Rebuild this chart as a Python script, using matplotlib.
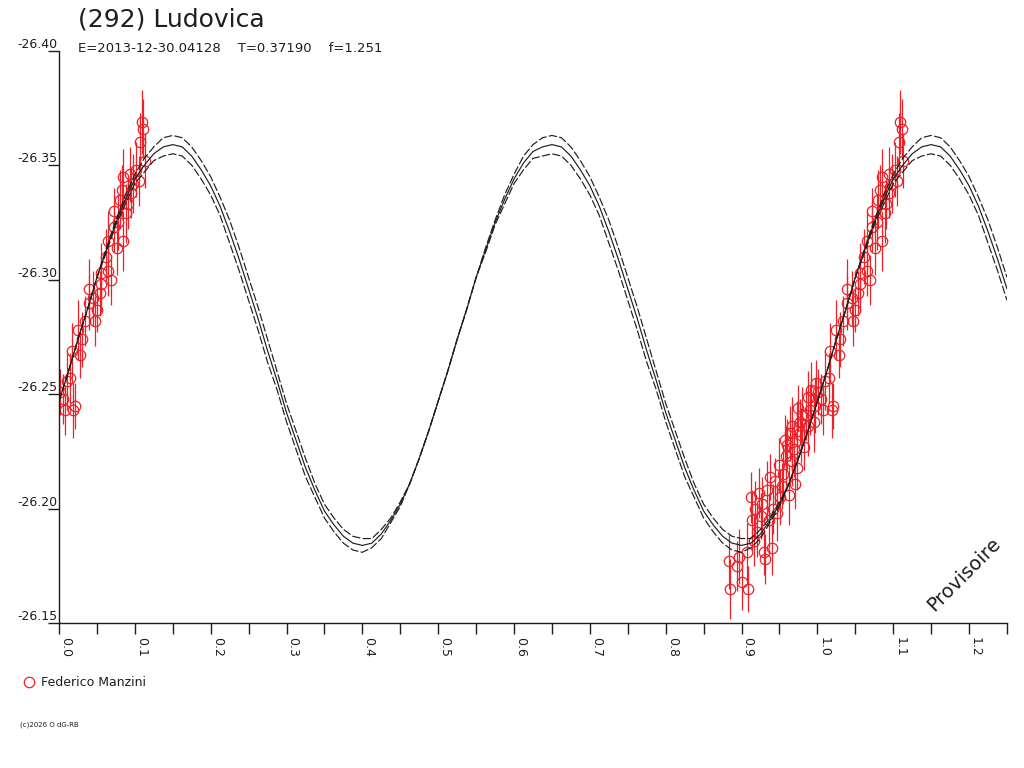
import numpy as np
import matplotlib
matplotlib.use('Agg')
import matplotlib.pyplot as plt
from matplotlib.lines import Line2D
from matplotlib.ticker import MultipleLocator

# fit curve and its error envelope, phase step 0.0125 from 0 to 1.25
fit_phase = [i * 0.0125 for i in range(101)]
fit_mid = [
    -26.247, -26.260, -26.274, -26.287, -26.301, -26.313, -26.325, -26.335, -26.344, -26.350,
    -26.355, -26.358, -26.359, -26.358, -26.354, -26.348, -26.341, -26.332, -26.321, -26.309,
    -26.296, -26.283, -26.269, -26.256, -26.242, -26.230, -26.218, -26.208, -26.199, -26.193,
    -26.188, -26.185, -26.184, -26.185, -26.189, -26.195, -26.202, -26.211, -26.222, -26.234,
    -26.247, -26.260, -26.274, -26.287, -26.301, -26.313, -26.325, -26.335, -26.344, -26.351,
    -26.356, -26.358, -26.359, -26.358, -26.354, -26.348, -26.341, -26.332, -26.321, -26.309,
    -26.296, -26.283, -26.269, -26.256, -26.242, -26.230, -26.218, -26.208, -26.199, -26.193,
    -26.188, -26.185, -26.184, -26.185, -26.189, -26.195, -26.202, -26.211, -26.222, -26.234,
    -26.247, -26.260, -26.274, -26.287, -26.301, -26.313, -26.325, -26.335, -26.344, -26.350,
    -26.355, -26.358, -26.359, -26.358, -26.354, -26.348, -26.341, -26.332, -26.321, -26.309,
    -26.296,
]
fit_upper = [
    -26.247, -26.260, -26.274, -26.287, -26.301, -26.314, -26.326, -26.337, -26.346, -26.353,
    -26.358, -26.362, -26.363, -26.362, -26.358, -26.352, -26.345, -26.336, -26.326, -26.314,
    -26.301, -26.288, -26.274, -26.260, -26.246, -26.234, -26.222, -26.211, -26.202, -26.196,
    -26.191, -26.188, -26.187, -26.187, -26.191, -26.196, -26.203, -26.211, -26.222, -26.234,
    -26.247, -26.260, -26.274, -26.287, -26.301, -26.314, -26.326, -26.337, -26.346, -26.354,
    -26.359, -26.362, -26.363, -26.362, -26.358, -26.352, -26.345, -26.336, -26.326, -26.314,
    -26.301, -26.288, -26.274, -26.260, -26.246, -26.234, -26.222, -26.211, -26.202, -26.196,
    -26.191, -26.188, -26.187, -26.187, -26.191, -26.196, -26.203, -26.211, -26.222, -26.234,
    -26.247, -26.260, -26.274, -26.287, -26.301, -26.314, -26.326, -26.337, -26.346, -26.353,
    -26.358, -26.362, -26.363, -26.362, -26.358, -26.352, -26.345, -26.336, -26.326, -26.314,
    -26.301,
]
fit_lower = [
    -26.247, -26.260, -26.274, -26.287, -26.301, -26.312, -26.324, -26.333, -26.342, -26.347,
    -26.352, -26.354, -26.355, -26.354, -26.350, -26.344, -26.337, -26.328, -26.316, -26.304,
    -26.291, -26.278, -26.264, -26.252, -26.238, -26.226, -26.214, -26.205, -26.196, -26.190,
    -26.185, -26.182, -26.181, -26.183, -26.187, -26.194, -26.201, -26.211, -26.222, -26.234,
    -26.247, -26.260, -26.274, -26.287, -26.301, -26.312, -26.324, -26.333, -26.342, -26.348,
    -26.353, -26.354, -26.355, -26.354, -26.350, -26.344, -26.337, -26.328, -26.316, -26.304,
    -26.291, -26.278, -26.264, -26.252, -26.238, -26.226, -26.214, -26.205, -26.196, -26.190,
    -26.185, -26.182, -26.181, -26.183, -26.187, -26.194, -26.201, -26.211, -26.222, -26.234,
    -26.247, -26.260, -26.274, -26.287, -26.301, -26.312, -26.324, -26.333, -26.342, -26.347,
    -26.352, -26.354, -26.355, -26.354, -26.350, -26.344, -26.337, -26.328, -26.316, -26.304,
    -26.291,
]

# observations (Federico Manzini)
obs_phase = [
    0.912, 0.885, 0.883, 0.909, 0.901, 0.894, 0.896, 0.907, 0.929, 0.931,
    0.940, 0.916, 0.914, 0.925, 0.927, 0.934, 0.942, 0.947, 0.953, 0.962,
    0.971, 0.949, 0.958, 0.973, 0.966, 0.964, 0.973, 0.966, 0.982, 0.980,
    0.988, 0.988, 0.997, 0.921, 0.936, 0.944, 0.955, 0.960, 0.969, 0.977,
    0.985, 0.992, 0.995, 0.918, 0.923, 0.938, 0.951, 0.957, 0.967, 0.975,
    0.979, 0.990, 0.998,
    0.001, 0.008, 0.019, 0.021, 0.010, 0.015, 0.017, 0.028, 0.025, 0.034,
    0.039, 0.039, 0.047, 0.045, 0.054, 0.056, 0.065, 0.056, 0.065, 0.072,
    0.076, 0.085, 0.072, 0.080, 0.083, 0.085, 0.089, 0.091, 0.094, 0.098,
    0.105, 0.107, 0.113, 0.109, 0.111, 0.005, 0.030, 0.050, 0.062, 0.069,
    0.078, 0.095, 0.102,
]
obs_mag = [
    -26.205, -26.165, -26.177, -26.165, -26.168, -26.175, -26.179, -26.181, -26.181, -26.178,
    -26.183, -26.186, -26.195, -26.197, -26.202, -26.208, -26.200, -26.198, -26.210, -26.206,
    -26.211, -26.219, -26.223, -26.218, -26.221, -26.233, -26.234, -26.229, -26.227, -26.241,
    -26.249, -26.236, -26.245, -26.190, -26.195, -26.212, -26.215, -26.228, -26.226, -26.238,
    -26.241, -26.252, -26.238, -26.200, -26.207, -26.214, -26.205, -26.230, -26.236, -26.244,
    -26.232, -26.243, -26.255,
    -26.251, -26.243, -26.243, -26.245, -26.256, -26.257, -26.269, -26.267, -26.278, -26.282,
    -26.290, -26.296, -26.282, -26.292, -26.294, -26.303, -26.304, -26.298, -26.317, -26.323,
    -26.314, -26.317, -26.330, -26.335, -26.339, -26.345, -26.329, -26.333, -26.346, -26.342,
    -26.343, -26.360, -26.352, -26.369, -26.366, -26.248, -26.274, -26.287, -26.310, -26.300,
    -26.325, -26.338, -26.348,
]
obs_err = [
    0.011, 0.013, 0.012, 0.010, 0.012, 0.011, 0.012, 0.013, 0.010, 0.011,
    0.012, 0.011, 0.013, 0.010, 0.012, 0.013, 0.011, 0.012, 0.010, 0.013,
    0.011, 0.012, 0.013, 0.010, 0.011, 0.012, 0.013, 0.011, 0.010, 0.012,
    0.011, 0.013, 0.012, 0.011, 0.012, 0.010, 0.013, 0.011, 0.012, 0.010,
    0.011, 0.012, 0.013, 0.012, 0.011, 0.010, 0.012, 0.011, 0.013, 0.010,
    0.012, 0.011, 0.010,
    0.010, 0.011, 0.012, 0.010, 0.013, 0.011, 0.012, 0.010, 0.013, 0.011,
    0.012, 0.013, 0.011, 0.012, 0.010, 0.013, 0.011, 0.012, 0.013, 0.011,
    0.012, 0.013, 0.010, 0.013, 0.011, 0.012, 0.013, 0.011, 0.012, 0.013,
    0.011, 0.013, 0.012, 0.014, 0.013, 0.011, 0.012, 0.010, 0.012, 0.011,
    0.012, 0.011, 0.012,
]

title = '(292) Ludovica'
subtitle = 'E=2013-12-30.04128    T=0.37190    f=1.251'
observer = 'Federico Manzini'
yticks = [-26.40, -26.35, -26.30, -26.25, -26.20, -26.15]

red = '#ee2028'
ink = '#1e1e1e'

plt.rcParams['font.family'] = 'DejaVu Sans'

fig = plt.figure(figsize=(10.24, 7.68), dpi=100)
ax = fig.add_axes([59 / 1024, 1 - 623.3 / 768, 948 / 1024, 572.6 / 768])

# points with phase below 0.25 are drawn again one cycle later
ph = np.array(obs_phase)
mg = np.array(obs_mag)
er = np.array(obs_err)
rep = ph < 0.25
ph_all = np.concatenate([ph, ph[rep] + 1.0])
mg_all = np.concatenate([mg, mg[rep]])
er_all = np.concatenate([er, er[rep]])

ax.errorbar(ph_all, mg_all, yerr=er_all, fmt='o', ms=7.5, mfc='none', mec=red,
            mew=0.9, ecolor=red, elinewidth=0.9, capsize=0, zorder=2)

ax.plot(fit_phase, fit_mid, color=ink, lw=0.85, zorder=3)
ax.plot(fit_phase, fit_upper, color=ink, lw=0.85, ls=(0, (7, 2)), zorder=3)
ax.plot(fit_phase, fit_lower, color=ink, lw=0.85, ls=(0, (7, 2)), zorder=3)

ax.set_xlim(0, 1.25)
ax.set_ylim(-26.15, -26.40)

ax.xaxis.set_minor_locator(MultipleLocator(0.05))
xt = np.arange(0, 1.21, 0.1)
ax.set_xticks(xt)
ax.set_xticklabels(['%.1f' % v for v in xt], rotation=-90, ha='left', va='top',
                   fontsize=9, color=ink)
ax.tick_params(axis='x', which='both', direction='out', length=8, width=1,
               color=ink, pad=2)

ax.set_yticks(yticks)
ax.set_yticklabels(['%.2f' % v for v in yticks], fontsize=9, color=ink)
ax.tick_params(axis='y', direction='out', length=8, width=1, color=ink, pad=-7)
for lab in ax.get_yticklabels():
    lab.set_va('bottom')

for s in ['top', 'right']:
    ax.spines[s].set_visible(False)
for s in ['left', 'bottom']:
    ax.spines[s].set_color(ink)
    ax.spines[s].set_linewidth(1.0)

fig.text(78 / 1024, 1 - 20 / 768, title, fontsize=18, color=ink, va='center', ha='left')
fig.text(78 / 1024, 1 - 48 / 768, subtitle, fontsize=9.5, color=ink, va='center', ha='left')

ax.text(0.955, 0.085, 'Provisoire', transform=ax.transAxes, rotation=45,
        fontsize=14, color=ink, ha='center', va='center')

handle = Line2D([], [], ls='none', marker='o', ms=7.5, mfc='none', mec=red, mew=0.9)
fig.legend([handle], [observer], loc='center left',
           bbox_to_anchor=(16 / 1024, 1 - 683 / 768), frameon=False,
           handlelength=1.0, handletextpad=0.5, borderpad=0, fontsize=9,
           labelcolor=ink)

fig.text(20 / 1024, 1 - 725 / 768, '(c)2026 O dG-RB', fontsize=5, color=ink,
         va='center', ha='left')

fig.savefig('out.png', dpi=100)
